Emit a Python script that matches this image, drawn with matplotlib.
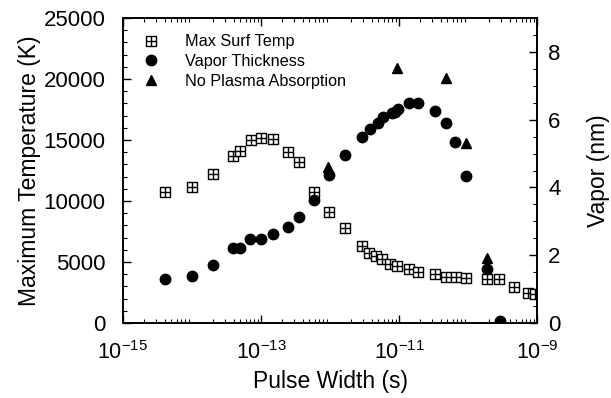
import numpy as np
import matplotlib
matplotlib.use("Agg")
import matplotlib.pyplot as plt
from matplotlib.path import Path

plt.rcParams['font.family'] = ['Liberation Sans', 'DejaVu Sans']
plt.rcParams['mathtext.default'] = 'regular'

# Max surface temperature (left axis, K)
temp_width = [4e-15, 1e-14, 2e-14, 3.9e-14, 5e-14, 7.1e-14, 1e-13, 1.5e-13, 2.5e-13, 3.5e-13,
              5.8e-13, 9.8e-13, 1.66e-12, 2.9e-12, 3.7e-12, 4.7e-12, 5.6e-12, 7.4e-12, 9.5e-12,
              1.4e-11, 1.9e-11, 3.3e-11, 4.8e-11, 6.8e-11, 9.3e-11, 1.86e-10, 2.8e-10, 4.7e-10,
              7.4e-10, 9.3e-10]
temp_max = [10740, 11130, 12220, 13720, 14120, 15000, 15140, 15060, 14040, 13220,
            10760, 9120, 7760, 6340, 5760, 5490, 5220, 4840, 4700,
            4400, 4210, 3990, 3800, 3750, 3660, 3630, 3630, 2980,
            2490, 2380]

# Vapor thickness (right axis, nm)
vap_width = [4e-15, 1e-14, 2e-14, 3.9e-14, 5e-14, 6.9e-14, 1e-13, 1.5e-13, 2.5e-13, 3.5e-13,
             5.8e-13, 9.8e-13, 1.66e-12, 2.9e-12, 3.8e-12, 4.9e-12, 5.8e-12, 7.8e-12, 8.7e-12,
             9.8e-12, 1.4e-11, 1.9e-11, 3.3e-11, 4.8e-11, 6.5e-11, 9.5e-11, 1.86e-10, 2.9e-10]
vap_thick = [1.29, 1.39, 1.70, 2.20, 2.20, 2.48, 2.48, 2.63, 2.84, 3.12,
             3.62, 4.37, 4.95, 5.50, 5.71, 5.91, 6.07, 6.20, 6.23,
             6.30, 6.48, 6.50, 6.26, 5.89, 5.35, 4.34, 1.58, 0.05]

# No plasma absorption (right axis, nm)
nopl_width = [9.5e-13, 9.5e-12, 4.8e-11, 9.3e-11, 1.86e-10]
nopl_thick = [4.59, 7.51, 7.22, 5.30, 1.91]

# square with a cross inside
sq_cross = Path([(-1, -1), (1, -1), (1, 1), (-1, 1), (-1, -1),
                 (0, -1), (0, 1), (-1, 0), (1, 0)],
                [Path.MOVETO, Path.LINETO, Path.LINETO, Path.LINETO, Path.CLOSEPOLY,
                 Path.MOVETO, Path.LINETO, Path.MOVETO, Path.LINETO])

fig = plt.figure(figsize=(6.11, 3.98), dpi=100)
ax = fig.add_axes([0.2013, 0.1884, 0.6776, 0.7664])
ax2 = ax.twinx()

h1, = ax.plot(temp_width, temp_max, ls='none', marker=sq_cross, ms=7.5,
              mfc='white', mec='black', mew=1.0, label='Max Surf Temp')
h2, = ax2.plot(vap_width, vap_thick, ls='none', marker='o', ms=7.5,
               color='black', label='Vapor Thickness')
h3, = ax2.plot(nopl_width, nopl_thick, ls='none', marker='^', ms=7.5,
               color='black', label='No Plasma Absorption')

ax.set_xscale('log')
ax.set_xlim(1e-15, 1e-9)
ax.set_ylim(0, 25000)
ax2.set_ylim(0, 9)
ax.set_xticks([1e-15, 1e-13, 1e-11, 1e-9])
ax.set_yticks([0, 5000, 10000, 15000, 20000, 25000])
ax.set_yticks(np.arange(0, 25001, 1000), minor=True)
ax2.set_yticks([0, 2, 4, 6, 8])
ax2.set_yticks(np.arange(0, 9.01, 0.5), minor=True)

ax.tick_params(which='both', direction='in', top=True, right=False, labelsize=16)
ax.tick_params(which='major', length=6, width=1)
ax.tick_params(which='minor', length=3, width=0.8)
ax.tick_params(axis='x', pad=13, labelsize=15.5)
ax.tick_params(axis='y', pad=12.5)
ax2.tick_params(which='both', direction='in', labelsize=16)
ax2.tick_params(which='major', length=6, width=1, pad=8)
ax2.tick_params(which='minor', length=3, width=0.8)

for sp in list(ax.spines.values()) + list(ax2.spines.values()):
    sp.set_linewidth(1.2)

ax.set_xlabel('Pulse Width (s)', fontsize=16.5, labelpad=4)
ax.set_ylabel('Maximum Temperature (K)', fontsize=16.5, labelpad=2)
ax2.set_ylabel('Vapor (nm)', fontsize=16.5, labelpad=19)

ax.legend(handles=[h1, h2, h3], loc='upper left', frameon=False, fontsize=11.7,
          handletextpad=1.3, labelspacing=0.3, borderaxespad=0.6, handlelength=1.5)

fig.savefig('out.png', dpi=100)
